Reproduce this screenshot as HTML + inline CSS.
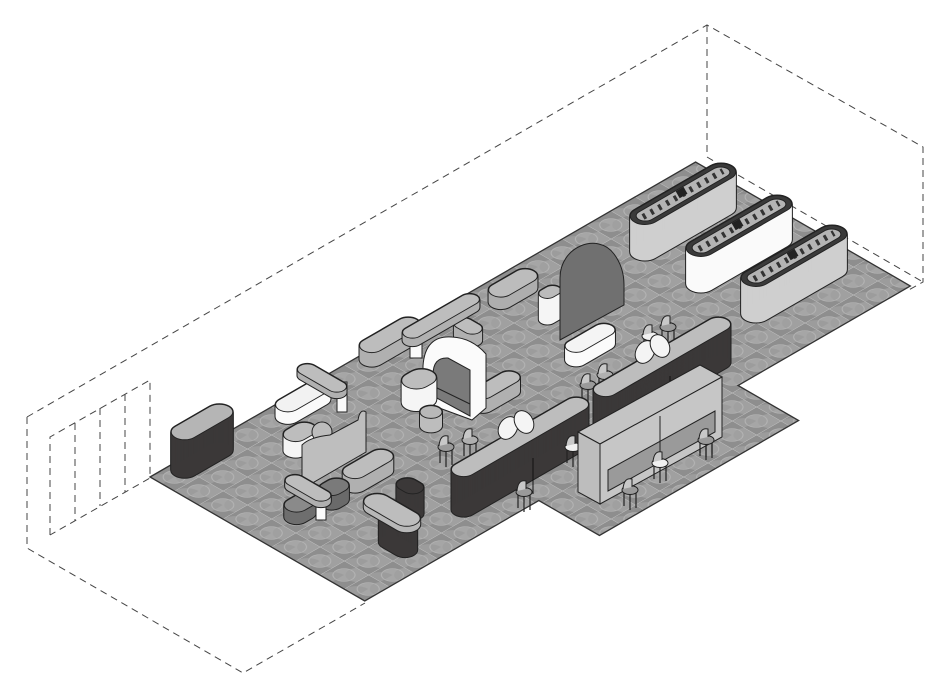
<!DOCTYPE html>
<html><head><meta charset="utf-8"><style>html,body{margin:0;padding:0;background:#fff}svg{display:block}</style></head>
<body>
<svg id="s" width="950" height="700" viewBox="0 0 950 700" xmlns="http://www.w3.org/2000/svg">
<defs>
<pattern id="fp" width="28" height="28" patternUnits="userSpaceOnUse">
<rect width="28" height="28" fill="#8e8e8e"/>
<circle cx="14" cy="14" r="9" fill="#a6a6a6"/>
<path d="M0,0 A14,14 0 0 1 14,14 L0,14Z" fill="#9c9c9c"/>
<path d="M14,28 A10,10 0 0 1 28,14 L28,28Z" fill="#a0a0a0"/>
<path d="M0,0H28M0,0V28" stroke="#c4c4c4" stroke-width="1"/>
<circle cx="14" cy="14" r="9" fill="none" stroke="#b8b8b8" stroke-width="0.8"/>
</pattern>
</defs>
<g fill="none" stroke="#444" stroke-width="1" stroke-dasharray="7,5">
<polyline points="27,417 707,25 923,147 923,282 907,291"/>
<line x1="707" y1="25" x2="707" y2="157"/>
<line x1="707" y1="157" x2="923" y2="282"/>
<polyline points="27,417 27,548 243,673 365,603"/>
<polyline points="50,535 50,437 150,380 150,478 50,535"/>
<line x1="75" y1="423" x2="75" y2="521"/>
<line x1="100" y1="408" x2="100" y2="506"/>
<line x1="125" y1="394" x2="125" y2="492"/>
</g>
<g transform="matrix(0.866,-0.5,0.866,0.5,150,477)">
<polygon points="0,0 630,0 630,248 431,248 431,318 201,318 201,248 0,248" fill="url(#fp)" stroke="#333" stroke-width="1.3" vector-effect="non-scaling-stroke"/>
</g>
<g id="f"></g>
</svg>
<script>
var out='';
function shp(cx,cy,L,W,dir,attr){
  var m='matrix(0.866,-0.5,0.866,0.5,'+cx+','+cy+')';
  var w=dir=='u'?L:W,h=dir=='u'?W:L,r=Math.min(w,h)/2;
  return '<rect transform="'+m+'" x="'+(-w/2)+'" y="'+(-h/2)+'" width="'+w+'" height="'+h+'" rx="'+r+'" '+attr+' vector-effect="non-scaling-stroke"/>';
}
function pill(cx,cy,L,W,h,top,side,dir){
  dir=dir||'u';
  for(var i=0;i<=h;i++) out+=shp(cx,cy+i,L,W,dir,'fill="#222" stroke="#222" stroke-width="2"');
  for(var i=0;i<=h;i++) out+=shp(cx,cy+i,L,W,dir,'fill="'+side+'"');
  out+=shp(cx,cy,L,W,dir,'fill="'+top+'" stroke="#222" stroke-width="1"');
}
function esc(cx,cy,side){
  pill(cx,cy,112,24,36,'#3a3a3a',side,'u');
  out+=shp(cx,cy,102,15,'u','fill="#b4b4b4" stroke="#222" stroke-width="1"');
  out+='<line x1="'+(cx-40)+'" y1="'+(cy+23)+'" x2="'+(cx+40)+'" y2="'+(cy-23)+'" stroke="#333" stroke-width="6" stroke-dasharray="3,6"/>';
  out+='<rect x="'+(cx-5)+'" y="'+(cy-6)+'" width="9" height="8" fill="#222" transform="rotate(-30 '+cx+' '+cy+')"/>';
}
function p(d,fill){out+='<path d="'+d+'" fill="'+fill+'" stroke="#222" stroke-width="1"/>';}
function chair(x,y,c){
  out+='<g stroke="#222" stroke-width="1.2" fill="none"><line x1="'+(x-6)+'" y1="'+y+'" x2="'+(x-6)+'" y2="'+(y+16)+'"/><line x1="'+(x+6)+'" y1="'+y+'" x2="'+(x+6)+'" y2="'+(y+18)+'"/><line x1="'+x+'" y1="'+(y+3)+'" x2="'+x+'" y2="'+(y+20)+'"/></g>';
  out+='<ellipse cx="'+x+'" cy="'+y+'" rx="8" ry="4.5" fill="'+(c||'#9a9a9a')+'" stroke="#222"/>';
  out+='<path d="M'+(x-7)+','+(y-1)+' Q'+(x-6)+','+(y-13)+' '+(x+2)+','+(y-11)+' L'+(x+2)+','+(y-3)+'" fill="#c8c8c8" stroke="#222"/>';
}
esc(683,194,'#cfcfcf');
esc(739,226,'#fafafa');
esc(794,256,'#cfcfcf');
pill(513,283,48,20,12,'#bcbcbc','#aeaeae');
pill(550,292,14,20,26,'#bbbbbb','#f5f5f5','v');
p('M560,340 L560,278 C560,246 598,232 614,254 C620,262 624,272 624,285 L624,305 Z','#707070');
pill(590,338,50,18,14,'#f4f4f4','#fbfbfb');
pill(390,335,62,20,14,'#bdbdbd','#b0b0b0');
pill(496,385,48,18,14,'#bdbdbd','#b0b0b0');
pill(468,326,26,16,12,'#bdbdbd','#b0b0b0','v');
out+='<rect x="410" y="330" width="12" height="28" fill="#fafafa" stroke="#222"/>';
pill(441,316,82,16,8,'#bdbdbd','#b0b0b0');
p('M423,402 L423,366 Q425,335 452,337 Q472,338 486,354 L486,408 L472,420 Z','#fbfbfb');
p('M433,375 Q433,357 448,358 L470,370 L470,416 L433,396 Z','#7a7a7a');
p('M433,386 L470,404','none');
pill(419,379,30,24,22,'#bdbdbd','#f5f5f5');
pill(431,412,18,18,14,'#b8b8b8','#bdbdbd');
pill(303,396,55,20,12,'#f2f2f2','#fafafa');
out+='<rect x="337" y="382" width="10" height="30" fill="#fafafa" stroke="#222"/>';
pill(322,378,50,16,6,'#bdbdbd','#b0b0b0','v');
pill(202,422,62,22,38,'#b5b5b5','#3b3838');
pill(300,432,30,20,16,'#bdbdbd','#f5f5f5');
out+='<circle cx="322" cy="432" r="10" fill="#bdbdbd" stroke="#222"/>';
p('M302,445 Q310,437 330,435 L358,420 Q360,408 366,412 L366,452 L302,489 Z','#bebebe');
pill(368,464,50,20,14,'#bdbdbd','#b0b0b0');
pill(334,487,26,20,14,'#7a7a7a','#6a6a6a');
pill(300,503,28,20,12,'#8a8a8a','#6e6e6e');
out+='<rect x="316" y="494" width="10" height="26" fill="#fafafa" stroke="#222"/>';
pill(308,488,46,16,6,'#bdbdbd','#b0b0b0','v');
pill(410,486,24,18,26,'#3b3838','#3b3838','v');
pill(398,520,36,20,26,'#3b3838','#3b3838','v');
pill(392,510,56,22,6,'#bdbdbd','#b8b8b8','v');
chair(446,447);chair(470,440,'#b0b0b0');chair(588,385);chair(605,375,'#b0b0b0');chair(650,336,'#f0f0f0');chair(668,327);
pill(662,357,150,20,38,'#bdbdbd','#3b3838');
out+='<line x1="670" y1="376" x2="670" y2="412" stroke="#111"/>';
out+='<ellipse cx="645" cy="352" rx="9" ry="12" fill="#f4f4f4" stroke="#222" transform="rotate(30 645 352)"/><ellipse cx="660" cy="346" rx="9" ry="12" fill="#f4f4f4" stroke="#222" transform="rotate(-30 660 346)"/>';
pill(520,437,150,20,40,'#bdbdbd','#3b3838');
out+='<line x1="533" y1="458" x2="533" y2="494" stroke="#111"/>';
out+='<ellipse cx="508" cy="428" rx="9" ry="12" fill="#f4f4f4" stroke="#222" transform="rotate(30 508 428)"/><ellipse cx="524" cy="422" rx="9" ry="12" fill="#f4f4f4" stroke="#222" transform="rotate(-30 524 422)"/>';
chair(573,447,'#f0f0f0');chair(706,437);chair(524,492);
p('M578,432 L700,365 L722,377 L600,444 Z','#c4c4c4');
p('M578,432 L600,444 L600,504 L578,492 Z','#bdbdbd');
p('M600,444 L722,377 L722,437 L600,504 Z','#c6c6c6');
p('M608,470 L715,411 L715,432 L608,491 Z','#9a9a9a');
out+='<line x1="660" y1="416" x2="660" y2="470" stroke="#222"/>';
chair(630,490);chair(660,463,'#f0f0f0');chair(706,440,'#9a9a9a');
document.getElementById('f').innerHTML=out;
</script>
</body></html>
